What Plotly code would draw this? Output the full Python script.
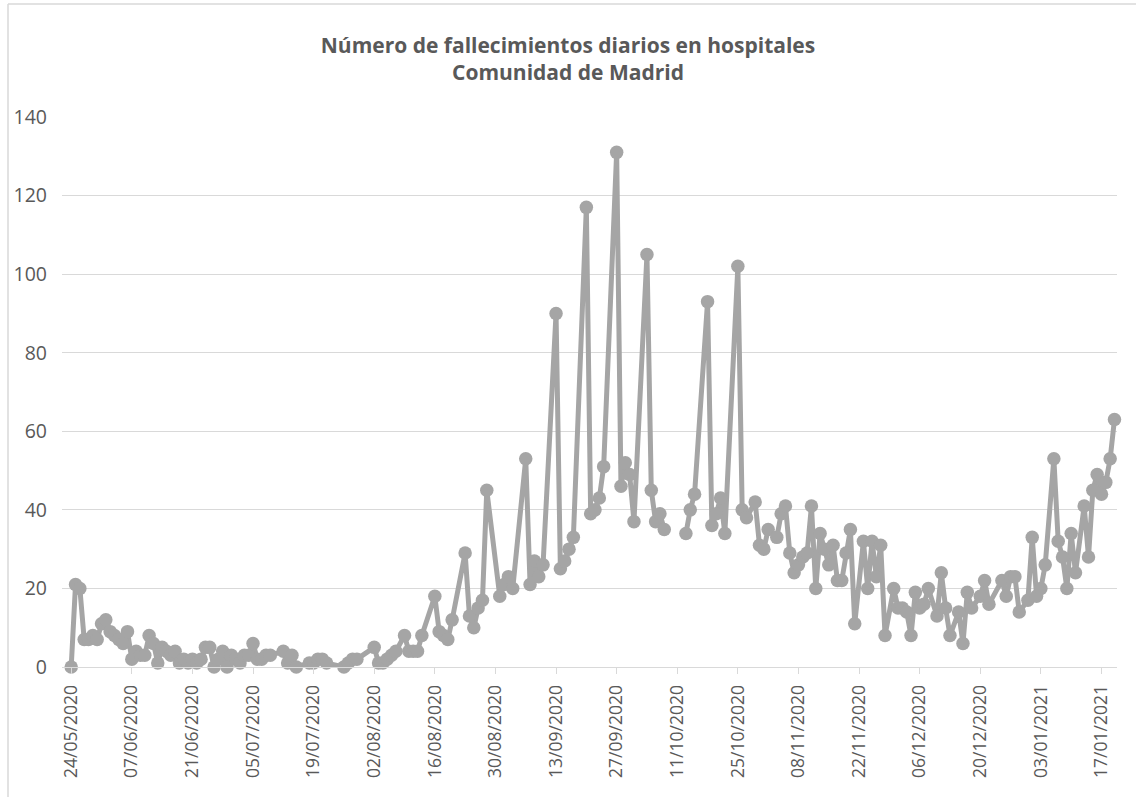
import pandas as pd
import plotly.graph_objects as go

start_date = "2020-05-24"

# day offsets from 24/05/2020 and daily deaths (None = gap)
day_offsets = [
    0, 1, 2, 3, 4, 5, 6, 7, 8, 9, 10, 11, 12, 13, 14, 15, 16, 17, 18, 19, 20,
    21, 22, 23, 24, 25, 26, 27, 28, 29, 30, 31, 32, 33, 34, 35, 36, 37, 38, 39, 40, 41,
    42, 43, 44, 45, 46, 49, 50, 51, 52, 55, 56, 57, 58, 59, 63, 64, 65, 66,
    70, 71, 72, 73, 74, 75, 77, 78, 79, 80, 81, 84, 85, 86, 87, 88,
    91, 92, 93, 94, 95, 96, 99, 100, 101, 102, 105, 106, 107, 108, 109,
    112, 113, 114, 115, 116, 119, 120, 121, 122, 123, 126, 127, 128, 129, 130,
    133, 134, 135, 136, 137, 139, 142, 143, 144, 147, 148, 149, 150, 151,
    154, 155, 156, 158, 159, 160, 161, 163, 164, 165, 166, 167, 168, 169, 170,
    171, 172, 173, 174, 175, 176, 177, 178, 179, 180, 181, 183, 184, 185, 186,
    187, 188, 190, 191, 192, 193, 194, 195, 196, 197, 198, 200, 201, 202, 203,
    205, 206, 207, 208, 210, 211, 212, 215, 216, 217, 218, 219, 221, 222, 223,
    224, 225, 227, 228, 229, 230, 231, 232, 234, 235, 236, 237, 238, 239, 240, 241,
]
deaths = [
    0, 21, 20, 7, 7, 8, 7, 11, 12, 9, 8, 7, 6, 9, 2, 4, 3, 3, 8, 6, 1,
    5, 4, 3, 4, 1, 2, 1, 2, 1, 2, 5, 5, 0, 2, 4, 0, 3, 2, 1, 3, 3,
    6, 2, 2, 3, 3, 4, 1, 3, 0, 1, 1, 2, 2, 1, 0, 1, 2, 2,
    5, 1, 1, 2, 3, 4, 8, 4, 4, 4, 8, 18, 9, 8, 7, 12,
    29, 13, 10, 15, 17, 45, 18, 21, 23, 20, 53, 21, 27, 23, 26,
    90, 25, 27, 30, 33, 117, 39, 40, 43, 51, 131, 46, 52, 49, 37,
    105, 45, 37, 39, 35, None, 34, 40, 44, 93, 36, 39, 43, 34,
    102, 40, 38, 42, 31, 30, 35, 33, 39, 41, 29, 24, 26, 28, 29,
    41, 20, 34, 30, 26, 31, 22, 22, 29, 35, 11, 32, 20, 32, 23,
    31, 8, 20, 15, 15, 14, 8, 19, 15, 16, 20, 13, 24, 15, 8,
    14, 6, 19, 15, 18, 22, 16, 22, 18, 23, 23, 14, 17, 33, 18,
    20, 26, 53, 32, 28, 20, 34, 24, 41, 28, 45, 49, 44, 47, 53, 63,
]

y_ticks = [0, 20, 40, 60, 80, 100, 120, 140]
title_lines = ["Número de fallecimientos diarios en hospitales", "Comunidad de Madrid"]

dates = pd.to_datetime(start_date) + pd.to_timedelta(day_offsets, unit="D")

GRAY = "#A5A5A5"
TXT = "#595959"
GRID = "#D9D9D9"
FONT = "Open Sans"

fig = go.Figure()
fig.add_trace(go.Scatter(
    x=dates, y=deaths, mode="lines+markers",
    line=dict(color=GRAY, width=5),
    marker=dict(color=GRAY, size=13.5),
    connectgaps=False, cliponaxis=False, showlegend=False,
))

fig.update_layout(
    width=1136, height=801,
    margin=dict(l=62, r=19, t=117, b=134),
    paper_bgcolor="white", plot_bgcolor="white",
    font=dict(family=FONT, color=TXT),
    title=dict(
        text="<b>" + title_lines[0] + "</b><br><b>" + title_lines[1] + "</b>",
        x=0.5, xref="container", xanchor="center",
        y=1 - 53 / 801, yref="container", yanchor="middle",
        font=dict(family=FONT, size=21, color=TXT),
    ),
    xaxis=dict(
        type="date",
        range=["2020-05-21 21:00", "2021-01-20 14:00"],
        tick0=start_date, dtick=14 * 86400000,
        tickformat="%d/%m/%Y", tickangle=-90,
        ticks="outside", ticklen=6, tickcolor=GRID, tickwidth=1,
        showline=True, linecolor=GRID, linewidth=1,
        showgrid=False, zeroline=False,
        tickfont=dict(family=FONT, size=17.5, color=TXT),
        ticklabelstandoff=4,
    ),
    yaxis=dict(
        range=[0, 140], tickvals=y_ticks,
        showgrid=True, gridcolor=GRID, gridwidth=1,
        zeroline=False, showline=False, ticks="",
        tickfont=dict(family=FONT, size=19.5, color=TXT),
        ticklabelstandoff=14,
    ),
    shapes=[
        dict(type="line", xref="paper", yref="paper",
             x0=(8 - 62) / 1055, x1=(8 - 62) / 1055,
             y0=(667 - 797) / 550, y1=(667 - 4) / 550,
             line=dict(color=GRID, width=1.5)),
        dict(type="line", xref="paper", yref="paper",
             x0=(8 - 62) / 1055, x1=(1140 - 62) / 1055,
             y0=(667 - 4) / 550, y1=(667 - 4) / 550,
             line=dict(color=GRID, width=1.5)),
    ],
)

fig.write_html(
    "out.html",
    config={"displayModeBar": False},
    post_script="document.body.style.margin='0';document.body.style.overflow='hidden';",
)
